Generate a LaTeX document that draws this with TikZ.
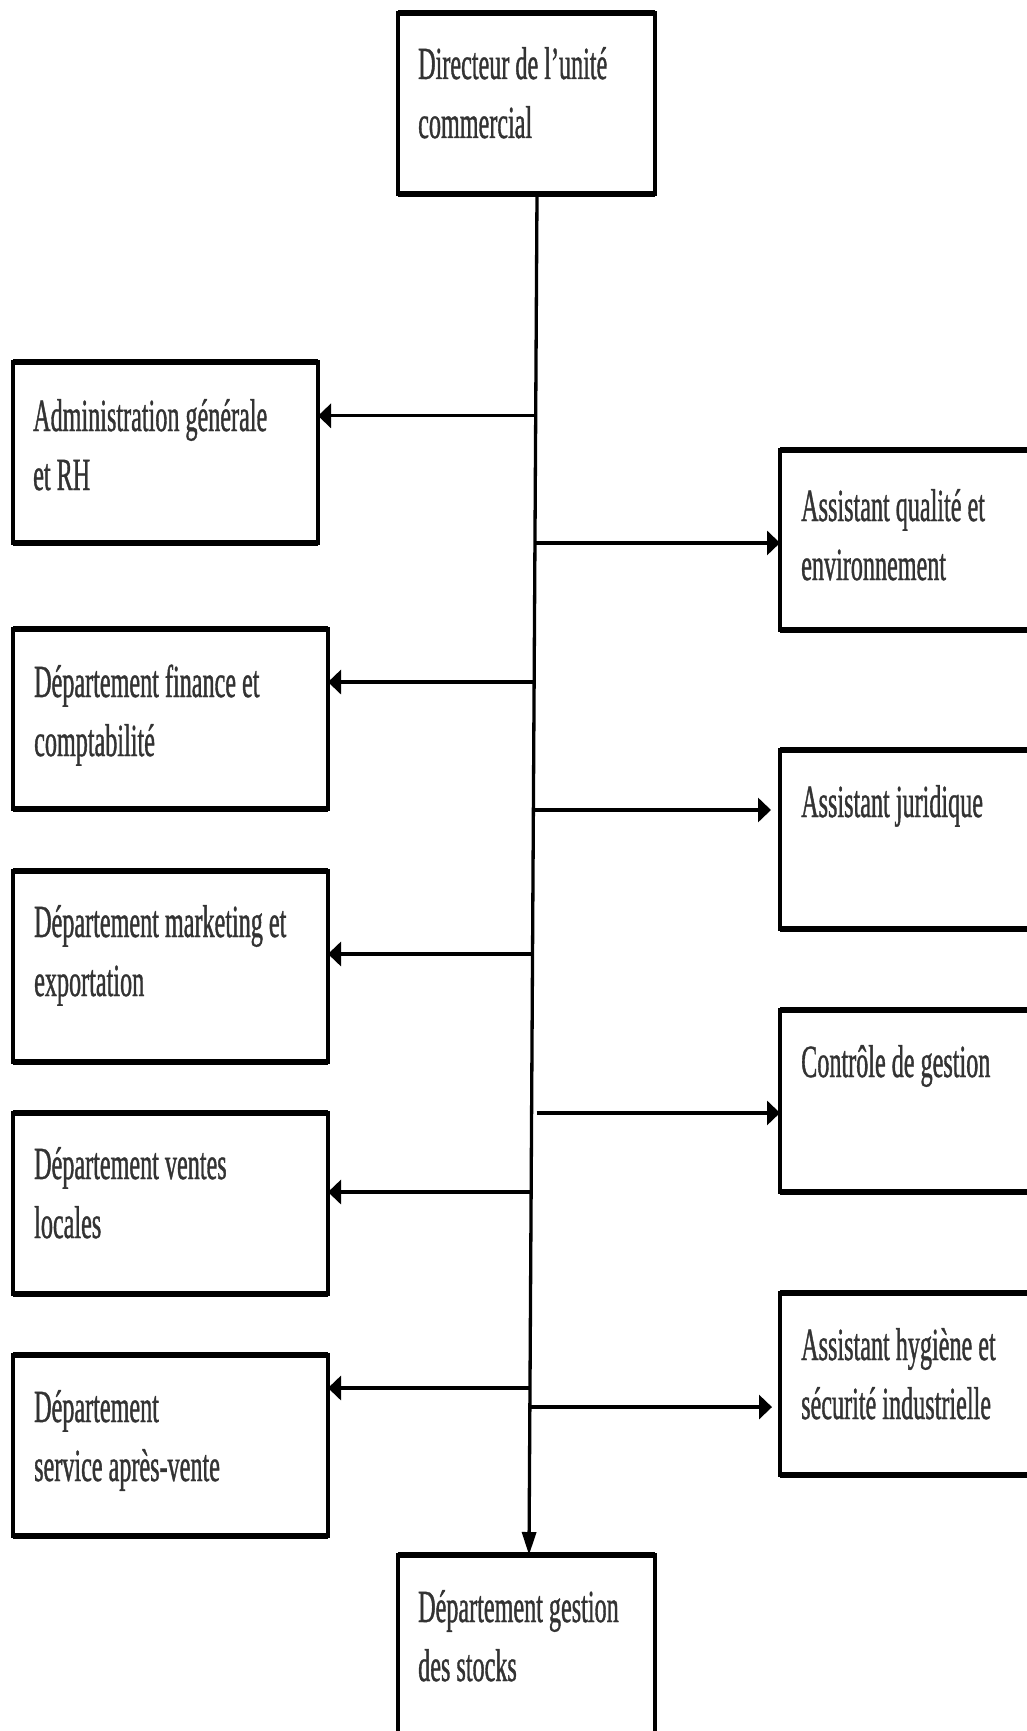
\documentclass[tikz,border=0pt]{standalone}
\usepackage{fontspec}
\setmainfont[FakeStretch=0.525,FakeBold=0.8]{Liberation Serif}
\usetikzlibrary{arrows.meta,calc}
\newcommand\twol[2]{\vtop{\hbox{#1}\hbox{#2}}}
\begin{document}
\begin{tikzpicture}[x=1pt,y=-1pt,
  box/.style={rectangle,draw=black,line width=3.5pt,inner sep=0pt,outer sep=0pt,anchor=north west},
  lbl/.style={anchor=base west,inner sep=0pt,text=black!80,font=\fontsize{46}{59}\selectfont},
  conn/.style={draw=black,line width=3.3pt},
  harrow/.style={conn,-{Triangle[length=13pt,width=24pt]}},
  varrow/.style={conn,-{Triangle[length=23pt,width=14pt]}}]
\useasboundingbox (0,0) rectangle (1027,1731);
\clip (0,0) rectangle (1027,1731);
\fill[white] (0,0) rectangle (1027,1731);
% boxes
\node[box,minimum width=257pt,minimum height=181pt] (dir) at (398,13) {};
\node[box,minimum width=305pt,minimum height=181pt] (adm) at (13,362) {};
\node[box,minimum width=315pt,minimum height=180pt] (fin) at (13,629) {};
\node[box,minimum width=315pt,minimum height=191pt] (mkt) at (13,871) {};
\node[box,minimum width=315pt,minimum height=181pt] (ven) at (13,1113) {};
\node[box,minimum width=315pt,minimum height=181pt] (sav) at (13,1355) {};
\node[box,minimum width=320pt,minimum height=180pt] (qua) at (780,450) {};
\node[box,minimum width=320pt,minimum height=179pt] (jur) at (780,750) {};
\node[box,minimum width=320pt,minimum height=182pt] (ctl) at (780,1010) {};
\node[box,minimum width=320pt,minimum height=182pt] (hyg) at (780,1293) {};
\node[box,minimum width=257pt,minimum height=260pt] (stk) at (398,1555) {};
% thicker horizontal edges
\foreach \n in {dir,adm,fin,mkt,ven,sav,qua,jur,ctl,hyg,stk}{
  \draw[line width=5.5pt] (\n.north west) -- (\n.north east) (\n.south west) -- (\n.south east);
}
% labels
\node[lbl] (t-dir) at ($(dir.north west)+(20,66)$) {\twol{Directeur de l’unité}{commercial}};
\node[lbl] (t-adm) at ($(adm.north west)+(20,69)$) {\twol{Administration générale}{et RH}};
\node[lbl] (t-fin) at ($(fin.north west)+(21,68)$) {\twol{Département finance et}{comptabilité}};
\node[lbl] (t-mkt) at ($(mkt.north west)+(21,66)$) {\twol{Département marketing et}{exportation}};
\node[lbl] (t-ven) at ($(ven.north west)+(21,66)$) {\twol{Département ventes}{locales}};
\node[lbl] (t-sav) at ($(sav.north west)+(21,67)$) {\twol{Département}{service après-vente}};
\node[lbl] (t-qua) at ($(qua.north west)+(21,71)$) {\twol{Assistant qualité et}{environnement}};
\node[lbl] (t-jur) at ($(jur.north west)+(21,67)$) {Assistant juridique};
\node[lbl] (t-ctl) at ($(ctl.north west)+(21,67)$) {Contrôle de gestion};
\node[lbl] (t-hyg) at ($(hyg.north west)+(21,67)$) {\twol{Assistant hygiène et}{sécurité industrielle}};
\node[lbl] (t-stk) at ($(stk.north west)+(20,67)$) {\twol{Département gestion}{des stocks}};
% trunk
\coordinate (trT) at ($(dir.south)+(10.5,0)$);
\coordinate (trB) at ($(stk.north)+(2.5,0)$);
\draw[varrow] (trT) -- (trB);
% junctions on the trunk
\coordinate (jadm) at ($(trT)!0.163!(trB)$);
\coordinate (jqua) at ($(trT)!0.2564!(trB)$);
\coordinate (jfin) at ($(trT)!0.3586!(trB)$);
\coordinate (jjur) at ($(trT)!0.4526!(trB)$);
\coordinate (jmkt) at ($(trT)!0.5584!(trB)$);
\coordinate (jctl) at ($(trT)!0.6752!(trB)+(5,0)$);
\coordinate (jven) at ($(trT)!0.7333!(trB)$);
\coordinate (jsav) at ($(trT)!0.8773!(trB)$);
\coordinate (jhyg) at ($(trT)!0.8913!(trB)$);
% branches
\draw[harrow] (jadm) -- (jadm -| adm.east);
\draw[harrow] (jfin) -- (jfin -| fin.east);
\draw[harrow] (jmkt) -- (jmkt -| mkt.east);
\draw[harrow] (jven) -- (jven -| ven.east);
\draw[harrow] (jsav) -- (jsav -| sav.east);
\draw[harrow] (jqua) -- (jqua -| qua.west);
\draw[harrow,shorten >=9pt] (jjur) -- (jjur -| jur.west);
\draw[harrow] (jctl) -- (jctl -| ctl.west);
\draw[harrow,shorten >=8pt] (jhyg) -- (jhyg -| hyg.west);
\end{tikzpicture}
\end{document}
